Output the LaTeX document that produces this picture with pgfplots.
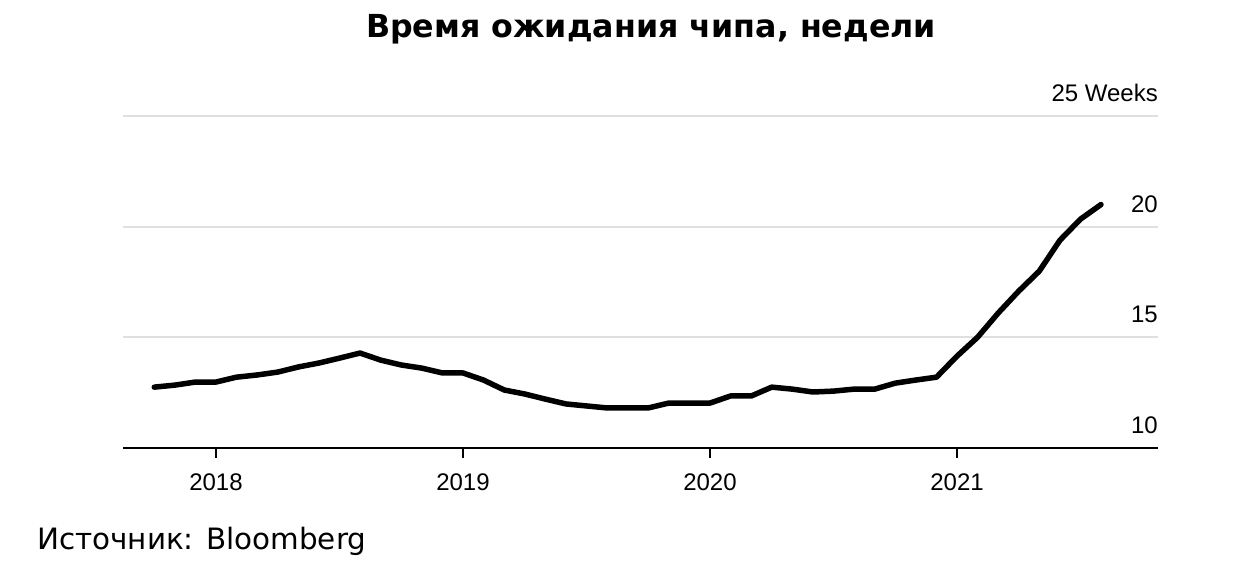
\documentclass[border=0pt]{standalone}
\usepackage{pgfplots}
\pgfplotsset{compat=1.18}
\usepackage{fontspec}
\setmainfont{Liberation Sans}
\newfontfamily\titlefont{DejaVu Sans}
\newfontfamily\srcfont{DejaVu Sans}
\pgfplotstableread{
x y
2017.750 12.75
2017.833 12.84
2017.917 12.98
2018.000 12.98
2018.083 13.20
2018.167 13.30
2018.250 13.43
2018.333 13.66
2018.417 13.84
2018.500 14.06
2018.583 14.29
2018.667 13.97
2018.750 13.75
2018.833 13.61
2018.917 13.39
2019.000 13.39
2019.083 13.07
2019.167 12.62
2019.250 12.44
2019.333 12.21
2019.417 11.99
2019.500 11.90
2019.583 11.81
2019.667 11.81
2019.750 11.81
2019.833 12.03
2019.917 12.03
2020.000 12.03
2020.083 12.35
2020.167 12.35
2020.250 12.75
2020.333 12.66
2020.417 12.53
2020.500 12.57
2020.583 12.66
2020.667 12.66
2020.750 12.93
2020.833 13.07
2020.917 13.20
2021.000 14.15
2021.083 15.00
2021.167 16.10
2021.250 17.09
2021.333 17.99
2021.417 19.39
2021.500 20.34
2021.583 21.00
}\chipdata
\begin{document}
\begin{tikzpicture}[x=1pt,y=1pt]
\useasboundingbox (0,0) rectangle (1238,562);
\begin{axis}[
  at={(123pt,114pt)}, anchor=south west,
  scale only axis, width=1035pt, height=332pt,
  xmin=2017.6235, xmax=2021.8138,
  ymin=10, ymax=25,
  axis x line*=bottom, axis y line*=left,
  y axis line style={draw=none},
  x axis line style={line width=1.5pt, -},
  xtick={2018,2019,2020,2021},
  xticklabels={2018,2019,2020,2021},
  xtick style={line width=1.2pt, black},
  tick align=outside, major tick length=10pt,
  xticklabel style={font=\fontsize{24}{28}\selectfont, yshift=-12pt},
  ytick={15,20,25},
  ymajorgrids, yticklabels={},
  ytick style={draw=none},
  grid style={line width=2pt, color=black!12},
  clip=false,
]
\addplot[line width=5.5pt, black, line join=round, line cap=round] table[x=x,y=y] {\chipdata};
\node[anchor=south east, font=\fontsize{24}{28}\selectfont, inner sep=0pt] at (axis cs:2021.8138,25) [yshift=14pt] {25 Weeks};
\node[anchor=south east, font=\fontsize{24}{28}\selectfont, inner sep=0pt] at (axis cs:2021.8138,20) [yshift=14pt] {20};
\node[anchor=south east, font=\fontsize{24}{28}\selectfont, inner sep=0pt] at (axis cs:2021.8138,15) [yshift=14pt] {15};
\node[anchor=south east, font=\fontsize{24}{28}\selectfont, inner sep=0pt] at (axis cs:2021.8138,10) [yshift=14pt] {10};
\end{axis}
\node[font=\titlefont\bfseries\fontsize{31.7}{36}\selectfont, anchor=base] at (651,524) {Время ожидания чипа, недели};
\node[font=\srcfont\fontsize{29.4}{34}\selectfont, anchor=base west, inner sep=0pt] at (37,13) {Источник: Bloomberg};
\end{tikzpicture}
\end{document}
